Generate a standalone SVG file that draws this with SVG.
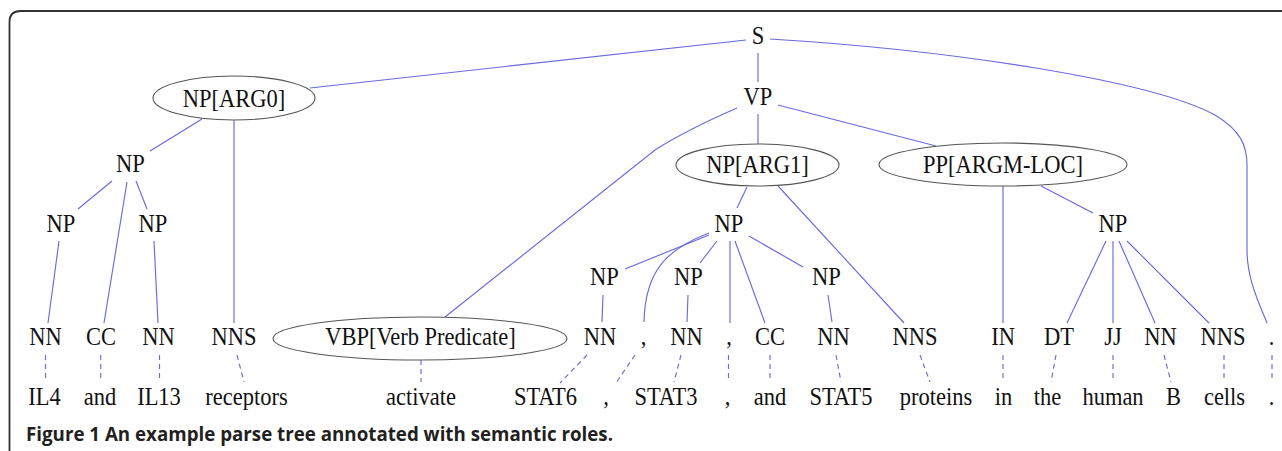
<svg xmlns="http://www.w3.org/2000/svg" width="1282" height="451" viewBox="0 0 1282 451">
<style>
.t{font-size:22.5px;fill:#111;text-anchor:middle}
.e{fill:none;stroke:#555;stroke-width:1.1}
.c path{fill:none;stroke:#6a6ae0;stroke-width:1.15}
.c .d path{stroke-dasharray:5,4}
.cap{font-family:'Open Sans','Noto Sans','Liberation Sans',sans-serif;font-weight:bold;font-size:17px;fill:#231f20}
</style>
<rect width="1282" height="451" fill="#fff"/>
<path d="M9.5,451 L9.5,22 Q9.5,11 20.5,11 L1282,11" fill="none" stroke="#333" stroke-width="1.8"/>
<g class="c" id="connectors">
<path d="M746,40 L310,88"/>
<path d="M758,53 L758,82"/>
<path d="M770,39 C950,50 1150,80 1215,115 C1240,130 1247,145 1247,165 L1247,250 C1247,280 1260,305 1267,323"/>
<path d="M737,108 C705,122 680,134 655,150 L445,317"/>
<path d="M758,114 L758,144"/>
<path d="M778,105 L936,146"/>
<path d="M202,119 L150,151"/>
<path d="M234,120 L234,323"/>
<path d="M112,181 L78,209"/>
<path d="M127,182 L104,323"/>
<path d="M136,181 L147,209"/>
<path d="M59,241 L48,323"/>
<path d="M154,241 L158,323"/>
<path d="M747,187 L737,208"/>
<path d="M778,186 L904,323"/>
<path d="M709,235 L625,269"/>
<path d="M709,233 C670,248 645,268 644,322"/>
<path d="M717,241 L700,263"/>
<path d="M730,241 L730,323"/>
<path d="M735,241 L765,323"/>
<path d="M749,236 L803,267"/>
<path d="M603,295 L602,322"/>
<path d="M688,295 L687,322"/>
<path d="M828,295 L832,322"/>
<path d="M1003,186 L1003,323"/>
<path d="M1041,186 L1093,213"/>
<path d="M1106,241 L1067,323"/>
<path d="M1113,241 L1113,323"/>
<path d="M1119,241 L1155,323"/>
<path d="M1127,241 L1209,323"/>
<g class="d">
<path d="M45.5,355 L45.5,382"/>
<path d="M100.7,355 L100.7,382"/>
<path d="M159.5,355 L159.5,382"/>
<path d="M237,355 L244,382"/>
<path d="M421,360 L421,382"/>
<path d="M587,355 L560,383"/>
<path d="M635,355 L616,383"/>
<path d="M681,355 L674,382"/>
<path d="M728.5,355 L728.5,382"/>
<path d="M770,355 L770,382"/>
<path d="M836,355 L841,382"/>
<path d="M920,355 L930,382"/>
<path d="M1003,355 L1003,382"/>
<path d="M1056,355 L1051,382"/>
<path d="M1113,355 L1113,382"/>
<path d="M1164,355 L1171,382"/>
<path d="M1224,355 L1224,382"/>
<path d="M1272,355 L1272,382"/>
</g>
</g>
<g font-family="Liberation Serif, DejaVu Serif, serif">
<g id="n_S"><text class="t" transform="matrix(1 0 0 1.13 758 44)">S</text></g>
<g id="n_NP_ARG0"><ellipse class="e" cx="234" cy="98" rx="81" ry="22"/><text class="t" transform="matrix(1 0 0 1.13 234 107)">NP[ARG0]</text></g>
<g id="n_VP"><text class="t" transform="matrix(1 0 0 1.13 758 105)">VP</text></g>
<g id="n_NP_a"><text class="t" transform="matrix(1 0 0 1.13 130.5 172)">NP</text></g>
<g id="n_NP_ARG1"><ellipse class="e" cx="757.5" cy="165" rx="81.5" ry="21"/><text class="t" transform="matrix(1 0 0 1.13 757.5 173)">NP[ARG1]</text></g>
<g id="n_PP_ARGM_LOC"><ellipse class="e" cx="1003" cy="164.5" rx="124" ry="21.5"/><text class="t" transform="matrix(1 0 0 1.13 1003 173)">PP[ARGM-LOC]</text></g>
<g id="n_NP_b"><text class="t" transform="matrix(1 0 0 1.13 61 232)">NP</text></g>
<g id="n_NP_c"><text class="t" transform="matrix(1 0 0 1.13 153 232)">NP</text></g>
<g id="n_NP_d"><text class="t" transform="matrix(1 0 0 1.13 729 232)">NP</text></g>
<g id="n_NP_e"><text class="t" transform="matrix(1 0 0 1.13 1113 232)">NP</text></g>
<g id="n_NP_f"><text class="t" transform="matrix(1 0 0 1.13 604.5 285)">NP</text></g>
<g id="n_NP_g"><text class="t" transform="matrix(1 0 0 1.13 688.5 285)">NP</text></g>
<g id="n_NP_h"><text class="t" transform="matrix(1 0 0 1.13 826.5 285)">NP</text></g>
<g id="n_NN_1"><text class="t" transform="matrix(1 0 0 1.13 45.5 345)">NN</text></g>
<g id="n_CC_1"><text class="t" transform="matrix(1 0 0 1.13 101 345)">CC</text></g>
<g id="n_NN_2"><text class="t" transform="matrix(1 0 0 1.13 158.5 345)">NN</text></g>
<g id="n_NNS_1"><text class="t" transform="matrix(1 0 0 1.13 234 345)">NNS</text></g>
<g id="n_VBP"><ellipse class="e" cx="420" cy="338.5" rx="147" ry="21.5"/><text class="t" transform="matrix(1 0 0 1.13 420.5 345)">VBP[Verb Predicate]</text></g>
<g id="n_NN_3"><text class="t" transform="matrix(1 0 0 1.13 600 345)">NN</text></g>
<g id="n_COMMA_1"><text class="t" transform="matrix(1 0 0 1.13 643.5 345)">,</text></g>
<g id="n_NN_4"><text class="t" transform="matrix(1 0 0 1.13 686.5 345)">NN</text></g>
<g id="n_COMMA_2"><text class="t" transform="matrix(1 0 0 1.13 729 345)">,</text></g>
<g id="n_CC_2"><text class="t" transform="matrix(1 0 0 1.13 770 345)">CC</text></g>
<g id="n_NN_5"><text class="t" transform="matrix(1 0 0 1.13 833.5 345)">NN</text></g>
<g id="n_NNS_2"><text class="t" transform="matrix(1 0 0 1.13 915 345)">NNS</text></g>
<g id="n_IN"><text class="t" transform="matrix(1 0 0 1.13 1003 345)">IN</text></g>
<g id="n_DT"><text class="t" transform="matrix(1 0 0 1.13 1059 345)">DT</text></g>
<g id="n_JJ"><text class="t" transform="matrix(1 0 0 1.13 1113 345)">JJ</text></g>
<g id="n_NN_6"><text class="t" transform="matrix(1 0 0 1.13 1160.5 345)">NN</text></g>
<g id="n_NNS_3"><text class="t" transform="matrix(1 0 0 1.13 1223 345)">NNS</text></g>
<g id="n_PERIOD"><text class="t" transform="matrix(1 0 0 1.13 1271.5 345)">.</text></g>
<g id="w_IL4"><text class="t" transform="matrix(1 0 0 1.13 44.5 405)">IL4</text></g>
<g id="w_and_1"><text class="t" transform="matrix(1 0 0 1.13 100 405)">and</text></g>
<g id="w_IL13"><text class="t" transform="matrix(1 0 0 1.13 159 405)">IL13</text></g>
<g id="w_receptors"><text class="t" transform="matrix(1 0 0 1.13 246.5 405)">receptors</text></g>
<g id="w_activate"><text class="t" transform="matrix(1 0 0 1.13 421 405)">activate</text></g>
<g id="w_STAT6"><text class="t" transform="matrix(1 0 0 1.13 545.5 405)">STAT6</text></g>
<g id="w_comma_1"><text class="t" transform="matrix(1 0 0 1.13 606 405)">,</text></g>
<g id="w_STAT3"><text class="t" transform="matrix(1 0 0 1.13 666 405)">STAT3</text></g>
<g id="w_comma_2"><text class="t" transform="matrix(1 0 0 1.13 727.5 405)">,</text></g>
<g id="w_and_2"><text class="t" transform="matrix(1 0 0 1.13 770 405)">and</text></g>
<g id="w_STAT5"><text class="t" transform="matrix(1 0 0 1.13 841 405)">STAT5</text></g>
<g id="w_proteins"><text class="t" transform="matrix(1 0 0 1.13 936 405)">proteins</text></g>
<g id="w_in"><text class="t" transform="matrix(1 0 0 1.13 1003.5 405)">in</text></g>
<g id="w_the"><text class="t" transform="matrix(1 0 0 1.13 1047.5 405)">the</text></g>
<g id="w_human"><text class="t" transform="matrix(1 0 0 1.13 1113 405)">human</text></g>
<g id="w_B"><text class="t" transform="matrix(1 0 0 1.13 1173.5 405)">B</text></g>
<g id="w_cells"><text class="t" transform="matrix(1 0 0 1.13 1224.5 405)">cells</text></g>
<g id="w_period"><text class="t" transform="matrix(1 0 0 1.13 1271.5 405)">.</text></g>
</g>
<g id="caption"><text class="cap" transform="matrix(1 0 0 1.13 26 441)" textLength="587" lengthAdjust="spacingAndGlyphs">Figure 1 An example parse tree annotated with semantic roles.</text></g>
</svg>
